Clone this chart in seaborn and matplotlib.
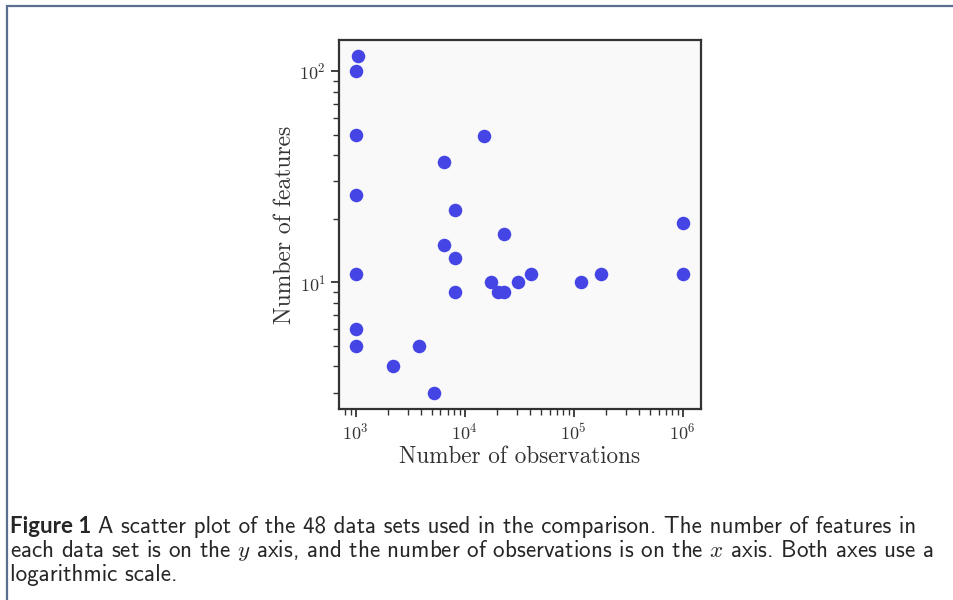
import numpy as np
import pandas as pd
import matplotlib
matplotlib.use('Agg')
import matplotlib.pyplot as plt
import seaborn as sns
from matplotlib.patches import Rectangle
from matplotlib.ticker import LogLocator, NullFormatter

# number of observations / features for each visible data set
n_obs = [1040, 1000, 1000, 14900, 6400, 1000, 8150, 1000000, 22800, 6500,
         8150, 1000, 1000000, 40600, 177000, 17500, 31000, 116000, 8150,
         20400, 23100, 1000, 1000, 3800, 2180, 5270]
n_feat = [118, 100, 50, 49, 37, 26, 22, 19, 17, 15,
          13, 11, 11, 11, 11, 10, 10, 10, 9,
          9, 9, 6, 5, 5, 4, 3]

caption_head = 'Figure 1'
caption_lines = [
    'A scatter plot of the 48 data sets used in the comparison. The number of features in',
    'each data set is on the $y$ axis, and the number of observations is on the $x$ axis. Both axes use a',
    'logarithmic scale.',
]

df = pd.DataFrame({'obs': n_obs, 'feat': n_feat})

sns.set_theme(style='ticks')
plt.rcParams['mathtext.fontset'] = 'cm'
plt.rcParams['axes.edgecolor'] = '#333333'
plt.rcParams['axes.linewidth'] = 1.6

fig = plt.figure(figsize=(9.54, 6.0), dpi=100)
fig.patch.set_facecolor('white')

# outer frame of the page figure
fig.add_artist(Rectangle((7.5 / 954, -0.1), 1.2, 1.1 - 5.5 / 600,
                         transform=fig.transFigure, fill=False,
                         edgecolor='#5b6f8e', linewidth=1.6))

ax = fig.add_axes([339 / 954, 1 - 409 / 600, 362 / 954, 369 / 600])
ax.set_facecolor('#f9f9f9')
sns.scatterplot(data=df, x='obs', y='feat', ax=ax, color='#4545e6',
                s=95, linewidth=0, alpha=1)
ax.set_xscale('log')
ax.set_yscale('log')
ax.set_xlim(10 ** 2.847, 10 ** 6.168)
ax.set_ylim(10 ** 0.40, 10 ** 2.147)

ax.xaxis.set_minor_locator(LogLocator(base=10, subs=np.arange(2, 10)))
ax.yaxis.set_minor_locator(LogLocator(base=10, subs=np.arange(2, 10)))
ax.xaxis.set_minor_formatter(NullFormatter())
ax.yaxis.set_minor_formatter(NullFormatter())
ax.tick_params(which='major', length=6, width=1.3, color='#333333',
               labelsize=13, labelcolor='#333333', labelfontfamily='cmr10')
ax.tick_params(which='minor', length=4, width=1.0, color='#333333')

ax.set_xlabel('Number of observations', family='cmr10', fontsize=16.7,
              color='#333333', labelpad=2)
ax.set_ylabel('Number of features', family='cmr10', fontsize=17,
              color='#333333', labelpad=2)

# caption
cap_size = 16.6
y1 = 1 - 533 / 600
t1 = fig.text(10 / 954, y1, caption_head, fontsize=cap_size - 0.6,
              family='Lato', weight='bold', va='baseline')
fig.canvas.draw()
bb = t1.get_window_extent()
fig.text(bb.x1 / 954 + 7 / 954, y1, caption_lines[0], fontsize=cap_size,
         family='cmss10', va='baseline')
fig.text(10 / 954, 1 - 557 / 600, caption_lines[1], fontsize=cap_size,
         family='cmss10', va='baseline')
fig.text(10 / 954, 1 - 581 / 600, caption_lines[2], fontsize=cap_size,
         family='cmss10', va='baseline')

fig.savefig('out.png', dpi=100)
